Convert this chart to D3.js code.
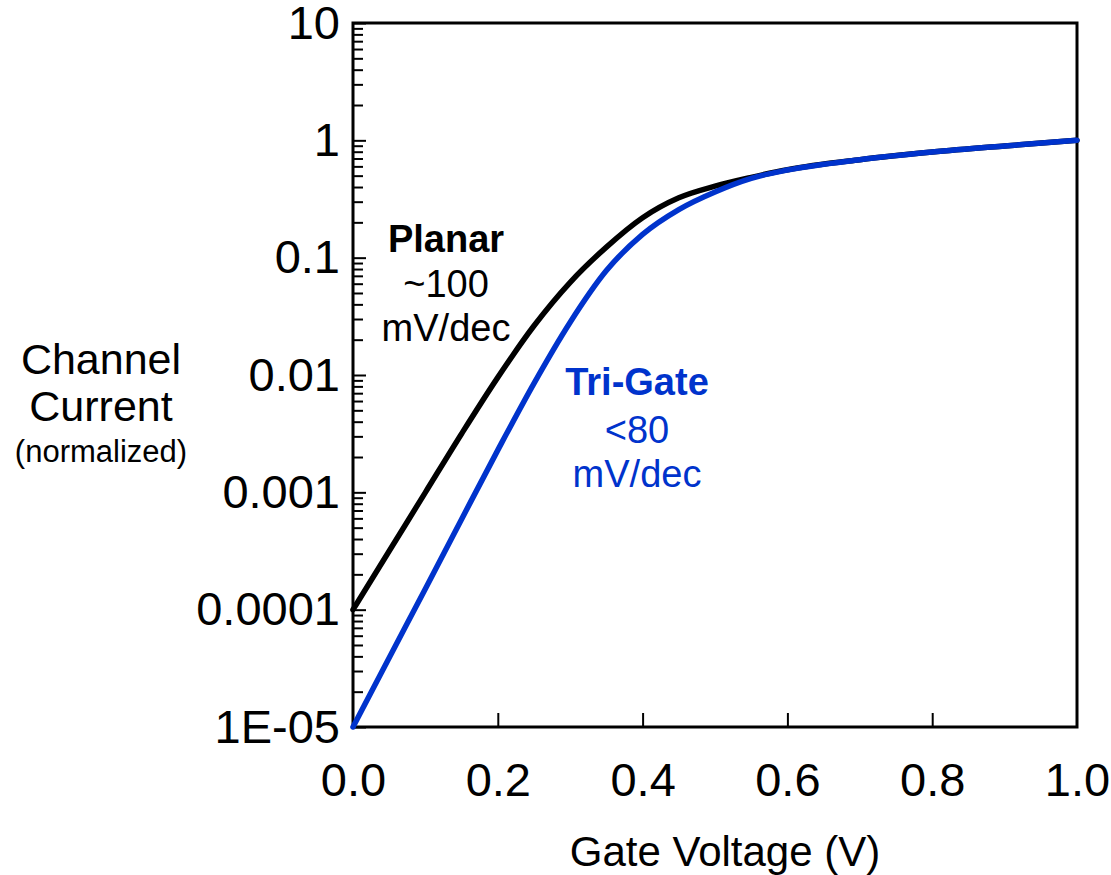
<!DOCTYPE html>
<html>
<head>
<meta charset="utf-8">
<script src="https://cdn.jsdelivr.net/npm/d3@7"></script>
<style>
  body { margin: 0; background: #fff; }
  text { font-family: 'Liberation Sans', Arial, sans-serif; }
</style>
</head>
<body>
<svg width="1111" height="875"></svg>
<script>
// gate voltage (V) sample points
const gateVoltage = [0, 0.05, 0.10, 0.15, 0.20, 0.25, 0.30, 0.35, 0.40, 0.45, 0.50, 0.55, 0.60, 0.70, 0.80, 0.90, 1.00];
// normalized channel current
const planarCurrent = [1e-4, 3.16e-4, 1e-3, 3.16e-3, 9.55e-3, 2.63e-2, 6.17e-2, 0.123, 0.219, 0.324, 0.407, 0.484, 0.562, 0.684, 0.794, 0.895, 1];
const triGateCurrent = [1e-5, 3.9e-5, 1.51e-4, 5.9e-4, 2.29e-3, 8.5e-3, 2.82e-2, 7.76e-2, 0.158, 0.257, 0.363, 0.474, 0.558, 0.684, 0.794, 0.895, 1];

const xTicks = [0, 0.2, 0.4, 0.6, 0.8, 1.0];
const yDecades = [1e-5, 1e-4, 1e-3, 1e-2, 0.1, 1, 10];
const yTickLabels = ['1E-05', '0.0001', '0.001', '0.01', '0.1', '1', '10'];

const svg = d3.select('svg');
const plotL = 353, plotR = 1077, plotT = 23, plotB = 727;

const x = d3.scaleLinear().domain([0, 1]).range([plotL, plotR]);
const y = d3.scaleLog().domain([1e-5, 10]).range([plotB, plotT]);

// minor + major ticks on the left axis, pointing inward
let yMarks = [];
yDecades.forEach(d => {
  if (d < 10) for (let k = 1; k <= 9; k++) yMarks.push(d * k);
});
yMarks.push(10);

const yTickG = svg.append('g')
  .attr('transform', `translate(${plotL},0)`)
  .call(d3.axisRight(y).tickValues(yMarks).tickSize(10).tickFormat(''));
yTickG.select('.domain').remove();
yTickG.selectAll('.tick line')
  .attr('x2', d => yDecades.some(v => Math.abs(v - d) / v < 1e-6) ? 13 : 10)
  .style('stroke', '#000')
  .style('stroke-width', '2px');

// y labels
const yLabG = svg.append('g')
  .attr('transform', `translate(${plotL},0)`)
  .call(d3.axisLeft(y).tickValues(yDecades).tickSize(0).tickPadding(13)
    .tickFormat((d, i) => yTickLabels[i]));
yLabG.select('.domain').remove();
yLabG.selectAll('text')
  .style('font-size', '47px')
  .style('font-family', 'Liberation Sans, Arial, sans-serif')
  .style('fill', '#000');

// x ticks inward
const xTickG = svg.append('g')
  .attr('transform', `translate(0,${plotB})`)
  .call(d3.axisTop(x).tickValues(xTicks.slice(1, -1)).tickSize(14).tickFormat(''));
xTickG.select('.domain').remove();
xTickG.selectAll('.tick line').style('stroke', '#000').style('stroke-width', '2px');

const xLabG = svg.append('g')
  .attr('transform', `translate(0,${plotB})`)
  .call(d3.axisBottom(x).tickValues(xTicks).tickSize(0).tickPadding(36).tickFormat(d3.format('.1f')));
xLabG.select('.domain').remove();
xLabG.selectAll('text')
  .style('font-size', '47px')
  .style('font-family', 'Liberation Sans, Arial, sans-serif')
  .style('fill', '#000');

// plot frame
svg.append('rect')
  .attr('x', plotL).attr('y', plotT)
  .attr('width', plotR - plotL).attr('height', plotB - plotT)
  .style('fill', 'none')
  .style('stroke', '#000')
  .style('stroke-width', '3px');

const line = d3.line()
  .x(d => x(d[0]))
  .y(d => y(d[1]))
  .curve(d3.curveMonotoneX);

const series = [
  { values: planarCurrent, color: '#000000' },
  { values: triGateCurrent, color: '#0033cc' }
];

series.forEach(s => {
  svg.append('path')
    .datum(gateVoltage.map((v, i) => [v, s.values[i]]))
    .attr('d', line)
    .style('fill', 'none')
    .style('stroke', s.color)
    .style('stroke-width', '5.5px')
    .style('stroke-linecap', 'round')
    .style('stroke-linejoin', 'round');
});

// annotations
function note(cx, lines, color) {
  lines.forEach(l => {
    svg.append('text')
      .text(l.t)
      .attr('x', cx)
      .attr('y', l.y)
      .style('text-anchor', 'middle')
      .style('font-size', '38px')
      .style('font-weight', l.bold ? 'bold' : 'normal')
      .style('fill', color);
  });
}
note(446, [{ t: 'Planar', y: 252, bold: true }, { t: '~100', y: 297 }, { t: 'mV/dec', y: 341 }], '#000');
note(637, [{ t: 'Tri-Gate', y: 395, bold: true }, { t: '<80', y: 443 }, { t: 'mV/dec', y: 487 }], '#0033cc');

// axis titles
svg.append('text').text('Gate Voltage (V)')
  .attr('x', 725).attr('y', 866)
  .style('text-anchor', 'middle').style('font-size', '42px').style('fill', '#000');

svg.append('text').text('Channel')
  .attr('x', 101).attr('y', 374)
  .style('text-anchor', 'middle').style('font-size', '43px').style('fill', '#000');
svg.append('text').text('Current')
  .attr('x', 101).attr('y', 421)
  .style('text-anchor', 'middle').style('font-size', '43px').style('fill', '#000');
svg.append('text').text('(normalized)')
  .attr('x', 101).attr('y', 462)
  .style('text-anchor', 'middle').style('font-size', '31px').style('fill', '#000');
</script>
</body>
</html>
